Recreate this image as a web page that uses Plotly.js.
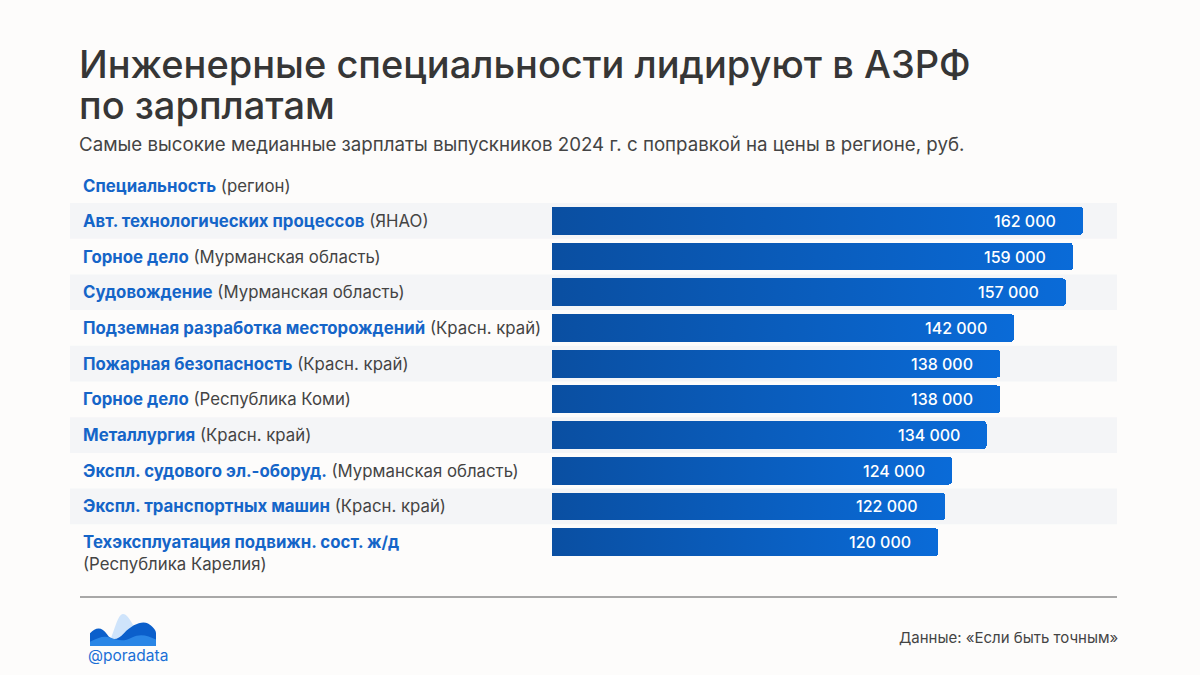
<!DOCTYPE html>
<html>
<head>
<meta charset="utf-8">
<script src="https://cdn.plot.ly/plotly-3.0.1.min.js"></script>
<style>
html,body{margin:0;padding:0;background:#fdfcfb;}
#chart{width:1200px;height:675px;}
</style>
</head>
<body>
<div id="chart"></div>
<script>
// ---- data ----
const specialties = [
  "Авт. технологических процессов",
  "Горное дело",
  "Судовождение",
  "Подземная разработка месторождений",
  "Пожарная безопасность",
  "Горное дело",
  "Металлургия",
  "Экспл. судового эл.-оборуд.",
  "Экспл. транспортных машин",
  "Техэксплуатация подвижн. сост. ж/д"
];
const regions = [
  "ЯНАО",
  "Мурманская область",
  "Мурманская область",
  "Красн. край",
  "Красн. край",
  "Республика Коми",
  "Красн. край",
  "Мурманская область",
  "Красн. край",
  "Республика Карелия"
];
const salaries = [162000, 159000, 157000, 142000, 138000, 138000, 134000, 124000, 122000, 120000];

const titleLines = ["Инженерные специальности лидируют в АЗРФ", "по зарплатам"];
const subtitleText = "Самые высокие медианные зарплаты выпускников 2024 г. с поправкой на цены в регионе, руб.";
const headerSpec = "Специальность";
const headerRegion = "(регион)";
const sourceText = "Данные: «Если быть точным»";
const brandText = "@poradata";

// ---- helpers ----
const W = 1200, H = 675;
const px = x => x / W;
const py = y => 1 - y / H;
const fmt = v => String(v).replace(/\B(?=(\d{3})+(?!\d))/g, " ");
const cats = salaries.map((_, i) => "r" + i);

const BLUE = "#1565c8";
const GRAY = "#444444";
const FONT = "Inter, 'Noto Sans', sans-serif";

const trace = {
  type: "bar",
  orientation: "h",
  x: salaries,
  y: cats,
  width: 0.78,
  marker: {color: "#0a5cba", cornerradius: 4},
  hoverinfo: "skip",
  cliponaxis: true
};

const annotations = [];
// value labels
salaries.forEach((v, i) => {
  annotations.push({
    x: v, y: cats[i], xref: "x", yref: "y",
    text: fmt(v), showarrow: false,
    xanchor: "right", yanchor: "middle", xshift: -25,
    font: {family: FONT, size: 16, color: "#ffffff", weight: 500}
  });
});
// category labels
specialties.forEach((s, i) => {
  const full = s + " (" + regions[i] + ")";
  const sep = full.length > 50 ? "<br>" : " ";
  annotations.push({
    x: px(81), xref: "paper", y: cats[i], yref: "y",
    text: '<span style="color:' + BLUE + '"><b>' + s + '</b></span>' + sep + "(" + regions[i] + ")",
    showarrow: false, xanchor: "left", yanchor: "top", yshift: 12, align: "left",
    font: {family: FONT, size: 16.8, color: GRAY}
  });
});
// header
annotations.push({
  x: px(81), xref: "paper", y: py(186), yref: "paper",
  text: '<span style="color:' + BLUE + '"><b>' + headerSpec + '</b></span> ' + headerRegion,
  showarrow: false, xanchor: "left", yanchor: "middle", align: "left",
  font: {family: FONT, size: 16.8, color: GRAY}
});
// title lines
titleLines.forEach((t, i) => {
  annotations.push({
    x: px(77), xref: "paper", y: py(64 + i * 41), yref: "paper",
    text: t, showarrow: false, xanchor: "left", yanchor: "middle",
    font: {family: FONT, size: 38, color: "#363636", weight: 500}
  });
});
// subtitle
annotations.push({
  x: px(77), xref: "paper", y: py(145), yref: "paper",
  text: subtitleText, showarrow: false, xanchor: "left", yanchor: "middle",
  font: {family: FONT, size: 18.7, color: GRAY}
});
// source
annotations.push({
  x: px(1120), xref: "paper", y: py(637), yref: "paper",
  text: sourceText, showarrow: false, xanchor: "right", yanchor: "middle",
  font: {family: FONT, size: 15, color: GRAY}
});
// brand
annotations.push({
  x: px(86), xref: "paper", y: py(655), yref: "paper",
  text: brandText, showarrow: false, xanchor: "left", yanchor: "middle",
  font: {family: FONT, size: 15.5, color: "#1a6fd6"}
});

// stripes on alternate rows
const shapes = [];
cats.forEach((c, i) => {
  if (i % 2 === 0) {
    shapes.push({
      type: "rect", layer: "below", xref: "paper", yref: "y",
      x0: px(70), x1: px(1117), y0: i - 0.5, y1: i + 0.5,
      fillcolor: "#f4f5f7", line: {width: 0}
    });
  }
});
// divider
shapes.push({
  type: "line", xref: "paper", yref: "paper",
  x0: px(80), x1: px(1117), y0: py(597), y1: py(597),
  line: {color: "#555555", width: 1}
});

// logo
const logoSvg = '<svg xmlns="http://www.w3.org/2000/svg" viewBox="0 0 66 30" width="66" height="30">' +
  '<path d="M17 30 C24 20 27 0 33 0 C40 0 44 16 58 30 Z" fill="#cfe4fb"/>' +
  '<path d="M0 18 C6 12 12 12 17 19 C22 26 28 24 34 18 C42 10 52 6 58 9 C62 11 66 15 66 18 L66 30 L0 30 Z" fill="#0b5fcb"/>' +
  '<path d="M0 30 L0 26 C8 22 14 20 20 22 C28 25 34 26 42 22 C50 18 58 20 66 24 L66 30 Z" fill="#2a86e6"/>' +
  '</svg>';
const images = [{
  source: "data:image/svg+xml;charset=utf-8," + encodeURIComponent(logoSvg),
  xref: "paper", yref: "paper", x: px(90), y: py(614),
  sizex: px(156) - px(90), sizey: (646 - 614) / H,
  xanchor: "left", yanchor: "top", sizing: "stretch", layer: "above"
}];

const layout = {
  width: W, height: H,
  margin: {l: 0, r: 0, t: 0, b: 0},
  paper_bgcolor: "#fdfcfb",
  plot_bgcolor: "rgba(0,0,0,0)",
  showlegend: false,
  xaxis: {
    domain: [px(552), px(1117)],
    range: [8000, 171770],
    visible: false, fixedrange: true
  },
  yaxis: {
    type: "category",
    domain: [py(560), py(203)],
    range: [9.5, -0.5],
    visible: false, fixedrange: true
  },
  annotations: annotations,
  shapes: shapes,
  images: images,
  bargap: 0
};

Plotly.newPlot("chart", [trace], layout, {displayModeBar: false, staticPlot: true}).then(gd => {
  const svg = gd.querySelector(".main-svg");
  const ns = "http://www.w3.org/2000/svg";
  let defs = svg.querySelector("defs");
  if (!defs) { defs = document.createElementNS(ns, "defs"); svg.insertBefore(defs, svg.firstChild); }
  const lg = document.createElementNS(ns, "linearGradient");
  lg.setAttribute("id", "barGrad");
  lg.setAttribute("x1", "0"); lg.setAttribute("x2", "1");
  lg.setAttribute("y1", "0"); lg.setAttribute("y2", "0");
  [["0", "#0a4d9e"], ["1", "#0a6bd8"]].forEach(([o, c]) => {
    const st = document.createElementNS(ns, "stop");
    st.setAttribute("offset", o); st.setAttribute("stop-color", c);
    lg.appendChild(st);
  });
  defs.appendChild(lg);
  gd.querySelectorAll(".barlayer .point path").forEach(p => { p.style.fill = "url(#barGrad)"; });
});
</script>
</body>
</html>
